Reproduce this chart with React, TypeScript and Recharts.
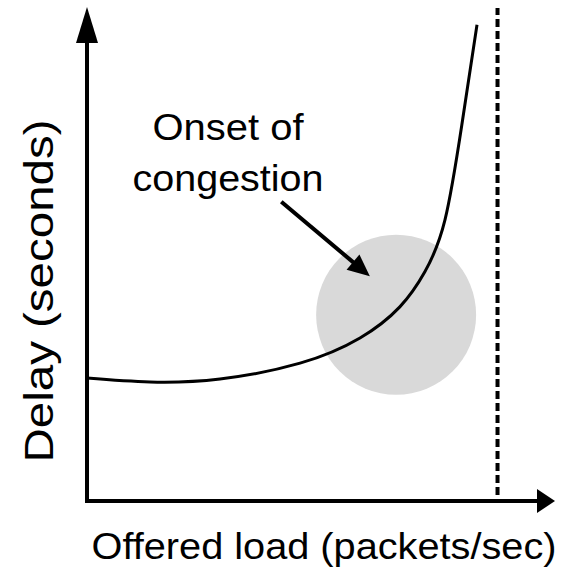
import React from 'react';
import {
  ComposedChart, Line, XAxis, YAxis, ReferenceLine, ReferenceDot,
} from 'recharts';

// offered load in % of capacity, delay in arbitrary units
const load = [0, 15.35, 32.4, 51.9, 66.5, 76.2, 82.3, 87.2, 91.3, 95.0];
const delay = [2.49, 2.41, 2.47, 2.79, 3.3, 3.93, 4.64, 5.69, 7.61, 9.64];

const capacity = 100;
const xMax = 114;
const yMax = 10;

const onset = { load: 75.3, delay: 3.77 };
const pointerFrom = { load: 47.7, delay: 6.03 };
const pointerTo = { load: 68.9, delay: 4.55 };

const data = load.map((l, i) => ({ load: l, delay: delay[i] }));

const FONT = '"Liberation Sans", Arial, sans-serif';

// line with a filled arrowhead at its end
const arrowShape = (headLen: number, headW: number, sw: number) => (props: any) => {
  const { x1, y1, x2, y2 } = props;
  const ang = Math.atan2(y2 - y1, x2 - x1);
  const bx = x2 - headLen * Math.cos(ang);
  const by = y2 - headLen * Math.sin(ang);
  const px = (headW / 2) * Math.sin(ang);
  const py = (headW / 2) * Math.cos(ang);
  return (
    <g>
      <line x1={x1} y1={y1} x2={bx} y2={by} stroke="#000" strokeWidth={sw} strokeLinecap="square" />
      <polygon points={`${x2},${y2} ${bx + px},${by - py} ${bx - px},${by + py}`} fill="#000" />
    </g>
  );
};

export default function App() {
  return (
    <div style={{ position: 'absolute', left: 0, top: 0, width: 563, height: 568, background: '#fff' }}>
      <ComposedChart
        width={563}
        height={568}
        data={data}
        margin={{ top: 7, right: 8, left: 87, bottom: 67 }}
      >
        <XAxis type="number" dataKey="load" domain={[0, xMax]} hide />
        <YAxis type="number" domain={[0, yMax]} hide />
        <ReferenceDot
          x={onset.load}
          y={onset.delay}
          r={80}
          fill="#d9d9d9"
          stroke="none"
          zIndex={50}
        />
        <ReferenceLine
          segment={[{ x: capacity, y: 0.12 }, { x: capacity, y: 9.98 }]}
          stroke="#000"
          strokeWidth={4}
          strokeDasharray="8 4"
        />
        <Line
          type="natural"
          dataKey="delay"
          stroke="#000"
          strokeWidth={3}
          dot={false}
          isAnimationActive={false}
        />
        <ReferenceLine
          segment={[{ x: 0, y: 0 }, { x: 0, y: yMax }]}
          shape={arrowShape(36, 22, 4)}
        />
        <ReferenceLine
          segment={[{ x: 0, y: 0 }, { x: xMax, y: 0 }]}
          shape={arrowShape(18, 24, 4)}
        />
        <ReferenceLine
          segment={[pointerFrom, pointerTo].map((p) => ({ x: p.load, y: p.delay }))}
          shape={arrowShape(22, 20, 4)}
        />
        <text x={228} y={140} textAnchor="middle" fontFamily={FONT} fontSize={37} textLength={151} lengthAdjust="spacingAndGlyphs">Onset of</text>
        <text x={228} y={191} textAnchor="middle" fontFamily={FONT} fontSize={37} textLength={191} lengthAdjust="spacingAndGlyphs">congestion</text>
        <text x={324} y={559} textAnchor="middle" fontFamily={FONT} fontSize={36} textLength={465} lengthAdjust="spacingAndGlyphs">Offered load (packets/sec)</text>
        <text x={53} y={291} textAnchor="middle" fontFamily={FONT} fontSize={40} textLength={343} lengthAdjust="spacingAndGlyphs" transform="rotate(-90 53 291)">Delay (seconds)</text>
      </ComposedChart>
    </div>
  );
}
